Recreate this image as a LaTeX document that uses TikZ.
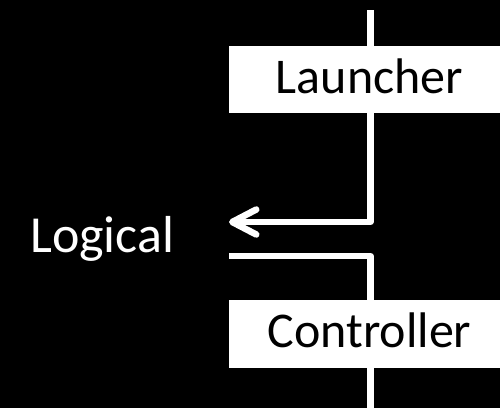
\documentclass[tikz,border=0pt]{standalone}
\usepackage{fontspec}
\setmainfont{Carlito}
\usetikzlibrary{arrows.meta}
\begin{document}
\begin{tikzpicture}[x=1pt, y=-1pt,
  wire/.style={draw=white, line width=6.5pt, line join=round},
  box/.style={fill=white, text=black, inner sep=0pt,
    minimum width=281pt, minimum height=67pt,
    font=\fontsize{50}{60}\selectfont, text height=36pt, text depth=9pt},
  lbl/.style={text=white, inner sep=0pt, font=\fontsize{52}{62}\selectfont}]
  % black canvas
  \fill[black] (0,0) rectangle (500,408);
  \useasboundingbox (0,0) rectangle (500,408);

  % wire ends
  \coordinate (topend) at (370.5,10);
  \coordinate (botend) at (370.5,412);
  \coordinate (tip) at (229,222);
  \coordinate (tail) at (229,256);

  % wires: down from the top into an arrow, and back out to the bottom
  \draw[wire, -{Straight Barb[round, length=24pt, width=25pt]}] (topend) |- (tip);
  \draw[wire] (tail) -| (botend);

  % labelled blocks sitting on the wire
  \node[box] (launcher) at (369.5,79.5) {Launcher};
  \node[box, minimum height=68pt] (controller) at (369.5,334) {Controller};
  \node[lbl, anchor=base west] (logical) at (30,252) {Logical};
\end{tikzpicture}
\end{document}
